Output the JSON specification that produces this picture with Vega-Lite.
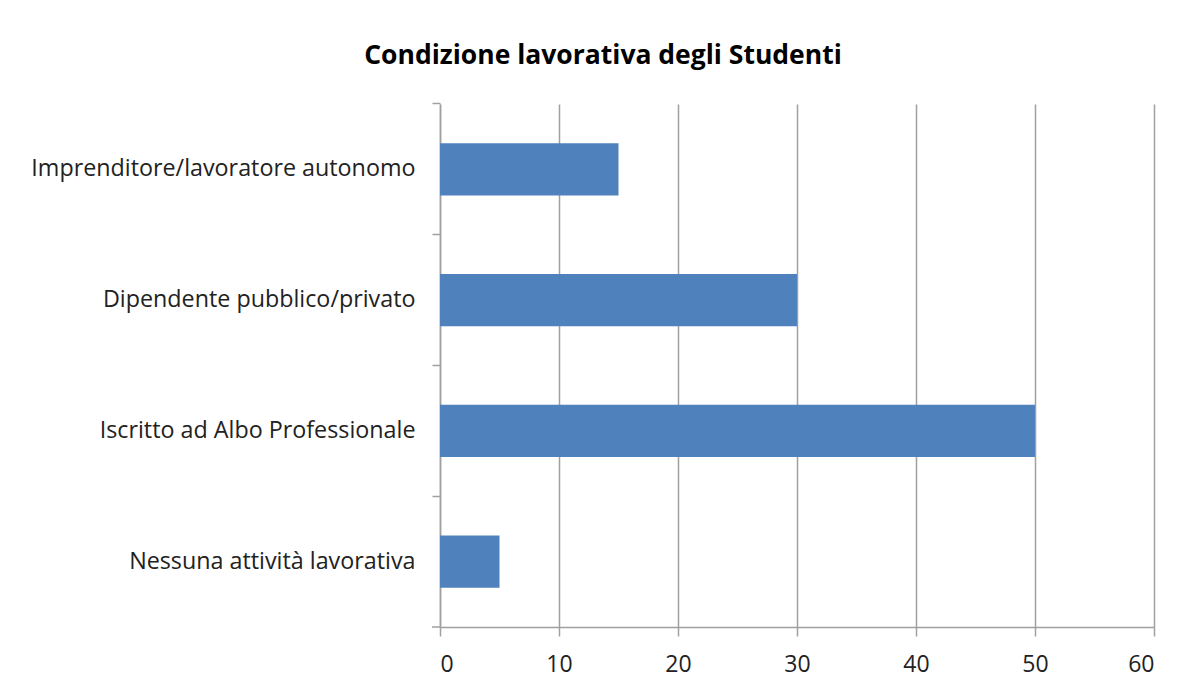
{
  "$schema": "https://vega.github.io/schema/vega-lite/v6.json",
  "width": 714,
  "height": 523,
  "autosize": {"type": "none"},
  "padding": {"left": 440, "top": 104, "right": 30, "bottom": 61},
  "background": "white",
  "config": {
    "view": {"stroke": null},
    "font": "Open Sans"
  },
  "title": {
    "text": "Condizione lavorativa degli Studenti",
    "font": "Open Sans",
    "fontSize": 26.5,
    "fontWeight": "bold",
    "color": "#000000",
    "anchor": "middle",
    "dx": -194,
    "offset": 33
  },
  "data": {
    "values": [
      {"categoria": "Imprenditore/lavoratore autonomo", "valore": 15},
      {"categoria": "Dipendente pubblico/privato", "valore": 30},
      {"categoria": "Iscritto ad Albo Professionale", "valore": 50},
      {"categoria": "Nessuna attività lavorativa", "valore": 5}
    ]
  },
  "layer": [
    {
      "mark": {"type": "bar", "color": "#4F81BD"},
      "encoding": {
        "y": {
          "field": "categoria",
          "type": "nominal",
          "sort": ["Imprenditore/lavoratore autonomo", "Dipendente pubblico/privato", "Iscritto ad Albo Professionale", "Nessuna attività lavorativa"],
          "scale": {"paddingInner": 0.6, "paddingOuter": 0.3},
          "axis": {
            "title": null,
            "bandPosition": -0.75,
            "domainColor": "#a0a0a0",
            "domainWidth": 1.5,
            "tickColor": "#a0a0a0",
            "tickWidth": 1.5,
            "tickSize": 8,
            "labelFont": "Open Sans",
            "labelFontSize": 23.3,
            "labelColor": "#222222",
            "labelPadding": 17,
            "labelLimit": 500,
            "grid": false
          }
        },
        "x": {
          "field": "valore",
          "type": "quantitative",
          "scale": {"domain": [0, 60], "nice": false},
          "axis": {
            "title": null,
            "values": [0, 10, 20, 30, 40, 50, 60],
            "grid": true,
            "gridColor": "#a0a0a0",
            "gridWidth": 1.5,
            "domainColor": "#a0a0a0",
            "domainWidth": 1.5,
            "tickColor": "#a0a0a0",
            "tickWidth": 1.5,
            "tickSize": 9,
            "labelFont": "Open Sans",
            "labelFontSize": 23,
            "labelColor": "#222222",
            "labelPadding": 17
          }
        }
      }
    },
    {
      "data": {"values": [{"categoria": "Nessuna attività lavorativa", "x0": -0.67, "x1": 0}]},
      "mark": {"type": "rule", "color": "#a0a0a0", "strokeWidth": 1.5},
      "encoding": {
        "y": {
          "field": "categoria",
          "type": "nominal",
          "bandPosition": 1.75,
          "sort": ["Imprenditore/lavoratore autonomo", "Dipendente pubblico/privato", "Iscritto ad Albo Professionale", "Nessuna attività lavorativa"]
        },
        "x": {"field": "x0", "type": "quantitative"},
        "x2": {"field": "x1"}
      }
    }
  ]
}
